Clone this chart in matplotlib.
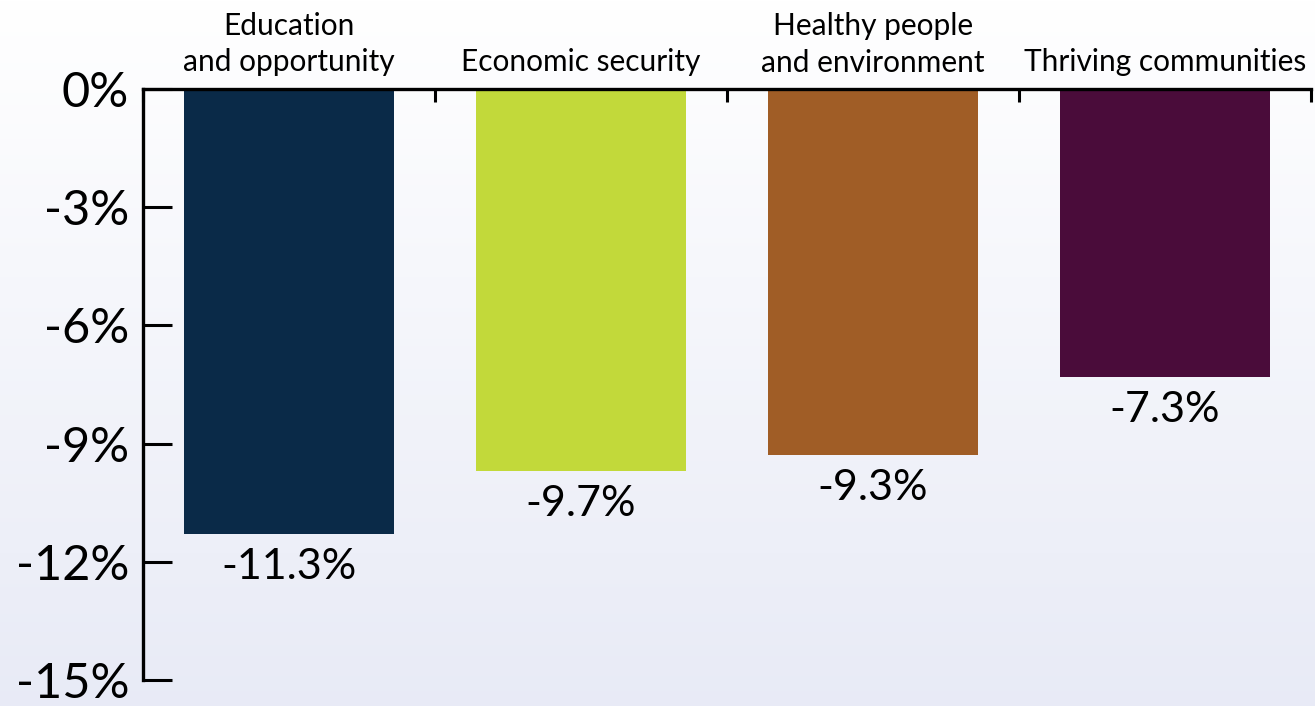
import numpy as np
import matplotlib
matplotlib.use("Agg")
import matplotlib.pyplot as plt

categories = ["Education\nand opportunity", "Economic security",
              "Healthy people\nand environment", "Thriving communities"]
values = [-11.3, -9.7, -9.3, -7.3]
colors = ["#0a2a48", "#c2d93a", "#a05d26", "#4a0c3a"]
yticks = [0, -3, -6, -9, -12, -15]

plt.rcParams['font.family'] = ['Lato', 'DejaVu Sans']

fig = plt.figure(figsize=(13.15, 7.06), dpi=100)

# background gradient white -> pale lavender
bg = fig.add_axes([0, 0, 1, 1], zorder=-10)
grad = np.linspace(0, 1, 256).reshape(-1, 1)
top = np.array([1.0, 1.0, 1.0])
bot = np.array([0.91, 0.92, 0.965])
img = top + (bot - top) * grad[..., None]
bg.imshow(img, aspect='auto', extent=[0, 1, 0, 1], origin='upper')
bg.axis('off')

ax = fig.add_axes([143/1315, 1 - 680/706, (1311 - 143)/1315, (680 - 89)/706])
ax.patch.set_alpha(0)

x = np.arange(len(categories))
ax.bar(x, values, width=0.72, color=colors)

ax.set_xlim(-0.5, len(categories) - 0.5)
ax.set_ylim(-15, 0)

for s in ['right', 'bottom']:
    ax.spines[s].set_visible(False)
for s in ['left', 'top']:
    ax.spines[s].set_linewidth(2.4)

ax.set_yticks(yticks)
ax.set_yticklabels([f"{v}%" for v in yticks], fontsize=35)
ax.tick_params(axis='y', direction='in', length=21, width=2.2, pad=10)

ax.xaxis.tick_top()
ax.set_xticks(np.arange(-0.5, len(categories), 1.0))
ax.set_xticklabels([])
ax.tick_params(axis='x', direction='in', length=9, width=2.2)

for xi, v in zip(x, values):
    ax.annotate(f"{v}%", (xi, v), xytext=(0, -10), textcoords='offset points',
                ha='center', va='top', fontsize=31)

for xi, c in zip(x, categories):
    ax.annotate(c, (xi, 0), xytext=(0, 9), textcoords='offset points',
                ha='center', va='bottom', fontsize=21.5, linespacing=1.35)

fig.savefig("out.png", dpi=100)
